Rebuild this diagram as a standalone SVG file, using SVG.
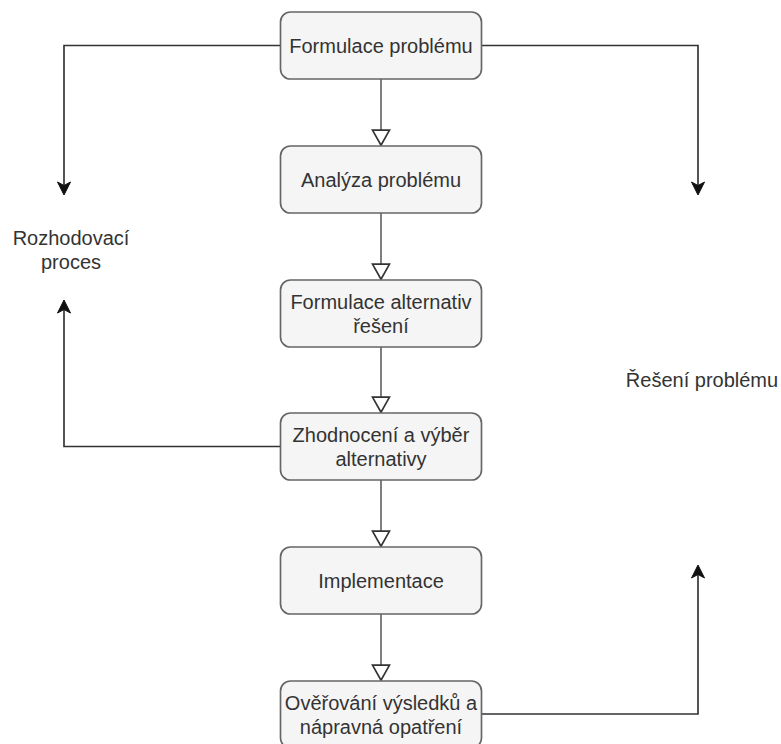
<svg xmlns="http://www.w3.org/2000/svg" width="781" height="744" viewBox="0 0 781 744">
<style>
.box{fill:#f5f5f5;stroke:#666666;stroke-width:1.67}
.t{font-family:"Liberation Sans",Arial,sans-serif;font-size:20px;fill:#333333;text-anchor:middle}
.flow{fill:none;stroke:#666666;stroke-width:1.67}
.side{fill:none;stroke:#333333;stroke-width:1.67}
</style>
<defs>
<marker id="hollow" markerUnits="userSpaceOnUse" markerWidth="17" markerHeight="19" refX="0.8" refY="8.5" orient="auto" overflow="visible">
<path d="M0,0 L15,8.5 L0,17 Z" fill="#ffffff" stroke="#333333" stroke-width="1.67"/>
</marker>
<marker id="classic" markerUnits="userSpaceOnUse" markerWidth="14" markerHeight="14" refX="3.5" refY="6.5" orient="auto" overflow="visible">
<path d="M0,0 L13,6.5 L0,13 L3.5,6.5 Z" fill="#111111" stroke="#111111" stroke-width="1"/>
</marker>
</defs>
<g id="connectors">
<path class="flow" d="M381 79 V131" marker-end="url(#hollow)"/>
<path class="flow" d="M381 213 V265" marker-end="url(#hollow)"/>
<path class="flow" d="M381 347 V398" marker-end="url(#hollow)"/>
<path class="flow" d="M381 480 V532" marker-end="url(#hollow)"/>
<path class="flow" d="M381 614 V666" marker-end="url(#hollow)"/>
<path class="side" d="M280.5 45.5 H64 V185.5" marker-end="url(#classic)"/>
<path class="side" d="M280.5 446.5 H64 V309.5" marker-end="url(#classic)"/>
<path class="side" d="M481.5 45.5 H698 V185.5" marker-end="url(#classic)"/>
<path class="side" d="M481.5 714 H698 V574.5" marker-end="url(#classic)"/>
</g>
<g id="n1"><rect class="box" x="280.5" y="12" width="201" height="67" rx="10"/><text class="t" x="381" y="52.5">Formulace problému</text></g>
<g id="n2"><rect class="box" x="280.5" y="146" width="201" height="67" rx="10"/><text class="t" x="381" y="186.5">Analýza problému</text></g>
<g id="n3"><rect class="box" x="280.5" y="280" width="201" height="67" rx="10"/><text class="t" x="381" y="308.5">Formulace alternativ</text><text class="t" x="381" y="332.5">řešení</text></g>
<g id="n4"><rect class="box" x="280.5" y="413" width="201" height="67" rx="10"/><text class="t" x="381" y="441.5">Zhodnocení a výběr</text><text class="t" x="381" y="465.5">alternativy</text></g>
<g id="n5"><rect class="box" x="280.5" y="547" width="201" height="67" rx="10"/><text class="t" x="381" y="587.5">Implementace</text></g>
<g id="n6"><rect class="box" x="280.5" y="681" width="201" height="67" rx="10"/><text class="t" x="381" y="709.5">Ověřování výsledků a</text><text class="t" x="381" y="733.5">nápravná opatření</text></g>
<g id="rozhodovaci"><text class="t" x="71" y="245">Rozhodovací</text><text class="t" x="71" y="269">proces</text></g>
<g id="reseni"><text class="t" x="702" y="387">Řešení problému</text></g>
</svg>
